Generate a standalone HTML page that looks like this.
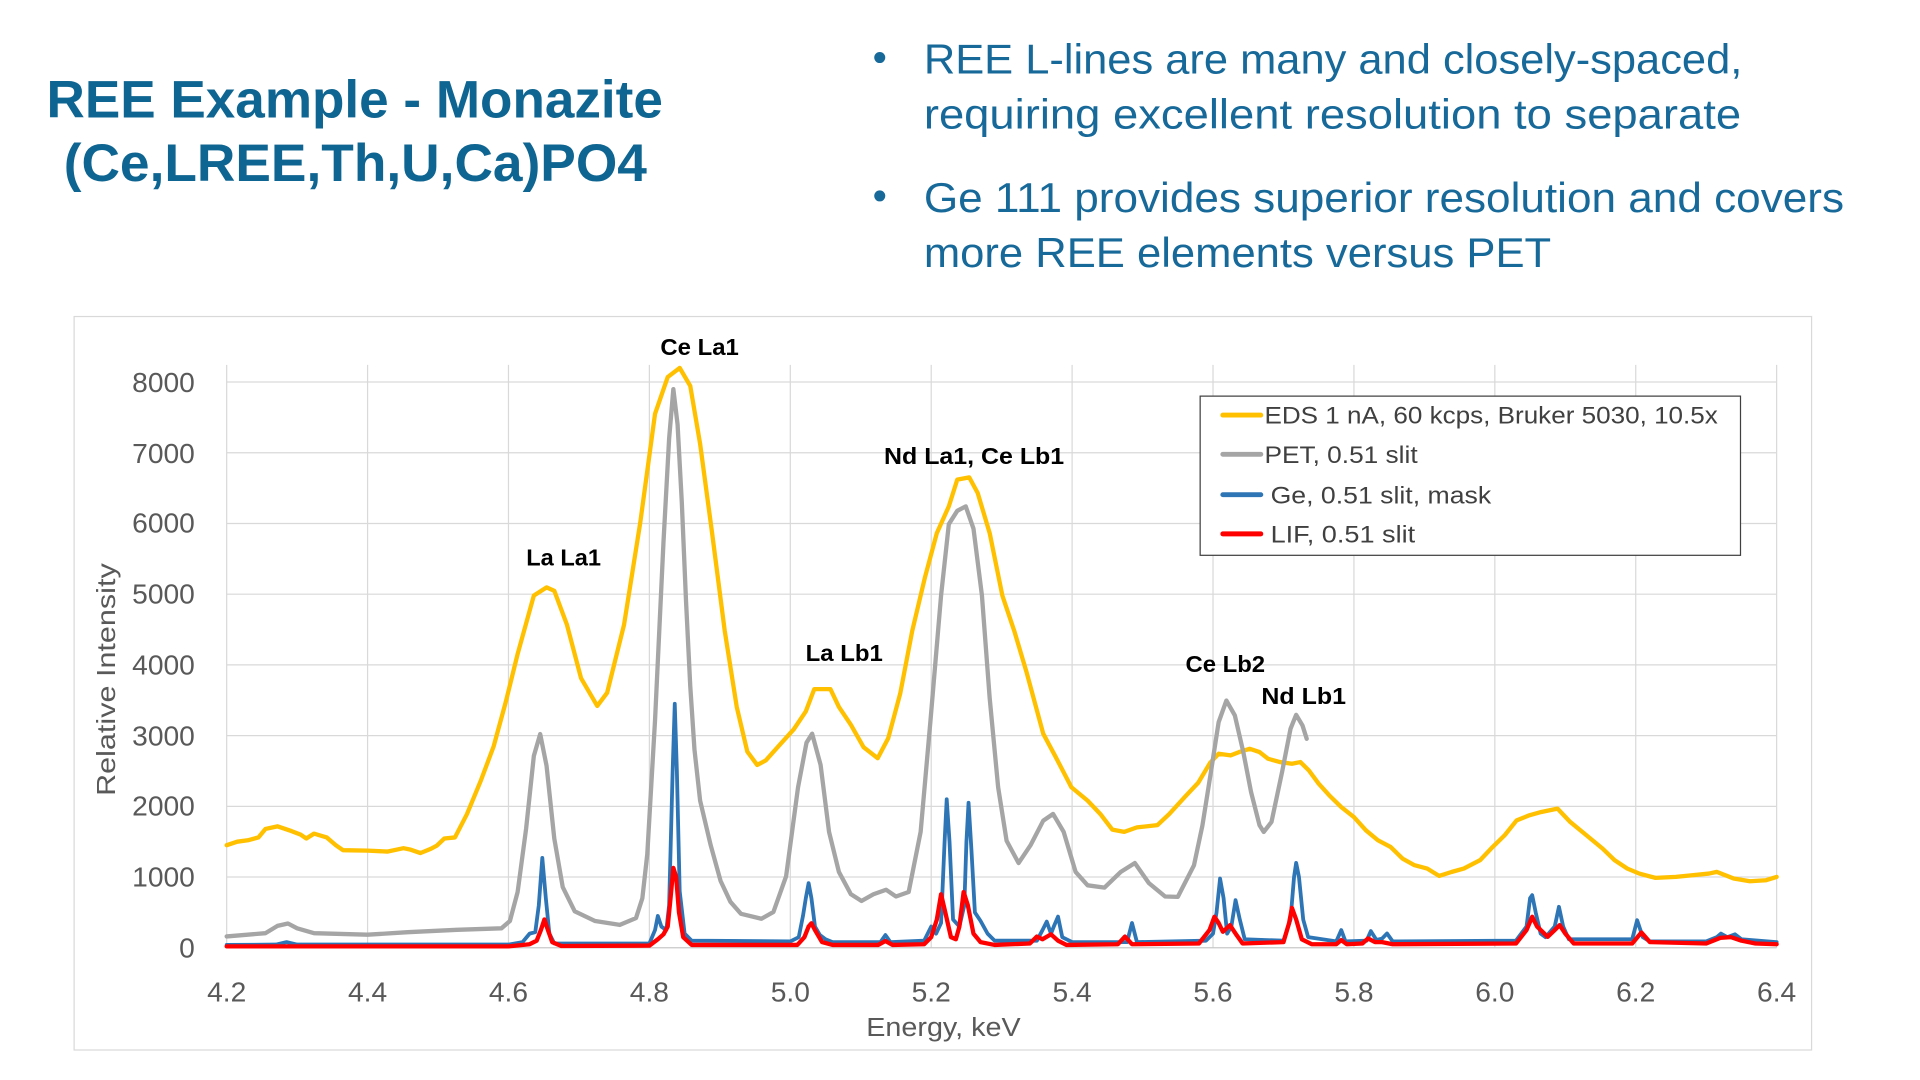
<!DOCTYPE html>
<html>
<head>
<meta charset="utf-8">
<style>
html,body{margin:0;padding:0;background:#fff;}
body{width:1920px;height:1080px;overflow:hidden;}
svg{display:block;}
</style>
</head>
<body>
<svg width="1920" height="1080" viewBox="0 0 1567 882" preserveAspectRatio="none" xmlns="http://www.w3.org/2000/svg" font-family="'Liberation Sans', Arial, sans-serif">
<rect x="0" y="0" width="1567" height="882" fill="#ffffff"/>

<!-- Title -->
<text x="38" y="96" font-size="43" font-weight="bold" fill="#0f6591" textLength="503" lengthAdjust="spacingAndGlyphs">REE Example - Monazite</text>
<text x="52" y="148" font-size="43" font-weight="bold" fill="#0f6591" textLength="476" lengthAdjust="spacingAndGlyphs">(Ce,LREE,Th,U,Ca)PO4</text>

<!-- Bullets -->
<circle cx="718" cy="47" r="4.5" fill="#17699a"/>
<circle cx="718" cy="160" r="4.5" fill="#17699a"/>
<g font-size="34" fill="#17699a">
<text x="754" y="60" textLength="668" lengthAdjust="spacingAndGlyphs">REE L-lines are many and closely-spaced,</text>
<text x="754" y="105" textLength="667" lengthAdjust="spacingAndGlyphs">requiring excellent resolution to separate</text>
<text x="754" y="173" textLength="751" lengthAdjust="spacingAndGlyphs">Ge 111 provides superior resolution and covers</text>
<text x="754" y="218" textLength="512" lengthAdjust="spacingAndGlyphs">more REE elements versus PET</text>
</g>

<!-- Chart box -->
<rect x="60.5" y="258.5" width="1418" height="599" fill="#ffffff" stroke="#d9d9d9" stroke-width="1"/>

<!-- Grid -->
<g stroke="#d9d9d9" stroke-width="1">
<line x1="185" y1="312" x2="1450" y2="312"/>
<line x1="185" y1="369.75" x2="1450" y2="369.75"/>
<line x1="185" y1="427.5" x2="1450" y2="427.5"/>
<line x1="185" y1="485.25" x2="1450" y2="485.25"/>
<line x1="185" y1="543" x2="1450" y2="543"/>
<line x1="185" y1="600.75" x2="1450" y2="600.75"/>
<line x1="185" y1="658.5" x2="1450" y2="658.5"/>
<line x1="185" y1="716.25" x2="1450" y2="716.25"/>
<line x1="185" y1="298" x2="185" y2="774"/>
<line x1="300" y1="298" x2="300" y2="774"/>
<line x1="415" y1="298" x2="415" y2="774"/>
<line x1="530" y1="298" x2="530" y2="774"/>
<line x1="645" y1="298" x2="645" y2="774"/>
<line x1="760" y1="298" x2="760" y2="774"/>
<line x1="875" y1="298" x2="875" y2="774"/>
<line x1="990" y1="298" x2="990" y2="774"/>
<line x1="1105" y1="298" x2="1105" y2="774"/>
<line x1="1220" y1="298" x2="1220" y2="774"/>
<line x1="1335" y1="298" x2="1335" y2="774"/>
<line x1="1450" y1="298" x2="1450" y2="774"/>
</g>
<line x1="185" y1="774" x2="1450" y2="774" stroke="#c8c8c8" stroke-width="1"/>

<!-- Y tick labels -->
<g font-size="23" fill="#595959" text-anchor="end">
<text x="159" y="320">8000</text>
<text x="159" y="378">7000</text>
<text x="159" y="435">6000</text>
<text x="159" y="493">5000</text>
<text x="159" y="551">4000</text>
<text x="159" y="609">3000</text>
<text x="159" y="666">2000</text>
<text x="159" y="724">1000</text>
<text x="159" y="782">0</text>
</g>
<!-- X tick labels -->
<g font-size="23" fill="#595959" text-anchor="middle">
<text x="185" y="818">4.2</text>
<text x="300" y="818">4.4</text>
<text x="415" y="818">4.6</text>
<text x="530" y="818">4.8</text>
<text x="645" y="818">5.0</text>
<text x="760" y="818">5.2</text>
<text x="875" y="818">5.4</text>
<text x="990" y="818">5.6</text>
<text x="1105" y="818">5.8</text>
<text x="1220" y="818">6.0</text>
<text x="1335" y="818">6.2</text>
<text x="1450" y="818">6.4</text>
</g>
<text x="770" y="846" font-size="21" fill="#595959" text-anchor="middle" textLength="126" lengthAdjust="spacingAndGlyphs">Energy, keV</text>
<text transform="translate(94 555) rotate(-90)" font-size="21" fill="#595959" text-anchor="middle" textLength="190" lengthAdjust="spacingAndGlyphs">Relative Intensity</text>

<!-- Series -->
<g transform="matrix(575 0 0 -0.05775 -2230 774)" fill="none" stroke-linejoin="round" stroke-linecap="round">
<polyline vector-effect="non-scaling-stroke" stroke="#FFC000" stroke-width="4.3" points="4.200,1450 4.215,1500 4.230,1520 4.245,1560 4.255,1680 4.272,1717 4.292,1650 4.305,1600 4.313,1545 4.324,1614 4.342,1560 4.355,1450 4.365,1380 4.400,1374 4.428,1360 4.451,1408 4.460,1390 4.475,1339 4.490,1400 4.498,1442 4.509,1545 4.524,1560 4.541,1889 4.561,2370 4.579,2850 4.596,3470 4.613,4155 4.636,4980 4.654,5096 4.665,5048 4.683,4567 4.703,3812 4.726,3420 4.740,3605 4.764,4567 4.787,6010 4.808,7550 4.826,8070 4.843,8200 4.858,7945 4.872,7125 4.889,5864 4.907,4477 4.924,3405 4.939,2774 4.953,2585 4.965,2648 4.982,2837 5.005,3090 5.022,3342 5.034,3657 5.057,3657 5.069,3405 5.086,3153 5.104,2837 5.124,2680 5.139,2963 5.156,3594 5.173,4477 5.191,5233 5.208,5864 5.225,6242 5.237,6620 5.254,6652 5.266,6431 5.283,5864 5.301,4981 5.318,4477 5.335,3909 5.359,3027 5.376,2711 5.399,2270 5.422,2081 5.440,1892 5.457,1671 5.474,1639 5.492,1702 5.521,1734 5.538,1892 5.561,2144 5.579,2333 5.596,2617 5.608,2744 5.625,2720 5.637,2767 5.652,2814 5.666,2767 5.678,2673 5.695,2626 5.712,2602 5.724,2626 5.736,2508 5.750,2320 5.765,2155 5.782,1990 5.800,1849 5.817,1661 5.834,1520 5.852,1426 5.869,1261 5.886,1167 5.904,1120 5.921,1016 5.939,1073 5.956,1120 5.979,1238 5.997,1426 6.014,1591 6.031,1802 6.049,1873 6.066,1920 6.089,1967 6.107,1779 6.130,1591 6.153,1402 6.170,1238 6.188,1120 6.205,1049 6.228,988 6.257,1002 6.280,1026 6.304,1049 6.315,1073 6.339,979 6.362,941 6.385,955 6.400,1002"/>
<polyline vector-effect="non-scaling-stroke" stroke="#A5A5A5" stroke-width="4.3" points="4.200,160 4.255,206 4.272,309 4.287,343 4.300,275 4.324,206 4.400,185 4.457,220 4.527,254 4.590,275 4.602,378 4.613,790 4.625,1683 4.636,2713 4.645,3022 4.654,2575 4.665,1545 4.677,858 4.694,515 4.723,378 4.758,323 4.781,420 4.790,700 4.797,1324 4.808,3216 4.820,5738 4.828,7200 4.834,7900 4.840,7400 4.846,6300 4.852,4900 4.858,3700 4.864,2800 4.872,2080 4.887,1450 4.901,946 4.915,650 4.930,480 4.959,410 4.976,505 4.994,1009 5.011,2270 5.023,2900 5.031,3027 5.043,2585 5.055,1639 5.069,1072 5.086,757 5.101,662 5.118,757 5.136,820 5.150,725 5.168,788 5.185,1639 5.199,3216 5.214,4981 5.225,5990 5.237,6179 5.249,6242 5.260,5927 5.272,4981 5.283,3531 5.295,2270 5.307,1513 5.324,1198 5.341,1450 5.359,1797 5.373,1892 5.388,1639 5.405,1072 5.422,883 5.446,851 5.469,1072 5.489,1198 5.509,914 5.532,725 5.550,720 5.573,1167 5.585,1732 5.597,2485 5.608,3191 5.619,3496 5.631,3285 5.643,2767 5.654,2202 5.666,1732 5.672,1638 5.683,1779 5.698,2485 5.710,3096 5.718,3294 5.727,3144 5.733,2955"/>
<polyline vector-effect="non-scaling-stroke" stroke="#2E75B6" stroke-width="3.8" points="4.200,40 4.270,45 4.285,80 4.300,45 4.600,45 4.620,80 4.630,200 4.638,220 4.643,600 4.648,1270 4.653,700 4.658,200 4.665,60 4.800,60 4.808,250 4.812,450 4.817,300 4.824,250 4.828,600 4.833,2500 4.836,3450 4.839,2500 4.843,800 4.850,200 4.860,100 5.000,90 5.012,150 5.018,450 5.022,700 5.026,914 5.030,700 5.035,300 5.042,180 5.050,120 5.060,80 5.128,80 5.135,180 5.142,80 5.190,100 5.200,300 5.207,200 5.214,350 5.219,1500 5.222,2100 5.226,1500 5.231,400 5.240,300 5.247,600 5.250,1500 5.253,2050 5.257,1400 5.262,500 5.270,380 5.280,200 5.290,100 5.350,100 5.358,250 5.364,370 5.370,200 5.374,300 5.380,440 5.386,150 5.400,80 5.478,80 5.485,350 5.492,80 5.590,100 5.600,200 5.605,500 5.610,979 5.615,700 5.620,200 5.626,300 5.632,673 5.638,400 5.645,120 5.700,100 5.710,400 5.715,1000 5.718,1200 5.722,1000 5.728,400 5.735,150 5.775,90 5.782,250 5.788,90 5.818,100 5.824,235 5.832,110 5.840,130 5.847,202 5.855,90 6.030,100 6.045,300 6.050,700 6.053,744 6.058,500 6.065,200 6.072,150 6.085,300 6.091,579 6.097,300 6.105,120 6.195,120 6.202,390 6.210,150 6.220,90 6.300,90 6.315,150 6.321,200 6.330,150 6.341,190 6.350,120 6.400,80"/>
<polyline vector-effect="non-scaling-stroke" stroke="#FF0000" stroke-width="4.3" points="4.200,20 4.600,20 4.630,50 4.640,100 4.646,250 4.651,400 4.656,250 4.662,80 4.675,25 4.800,30 4.812,120 4.820,190 4.826,300 4.830,700 4.834,1130 4.838,1000 4.842,500 4.848,150 4.860,40 5.010,40 5.020,150 5.026,300 5.030,347 5.035,250 5.045,80 5.060,40 5.125,40 5.135,95 5.145,40 5.190,50 5.200,150 5.208,400 5.214,757 5.220,500 5.228,150 5.235,120 5.240,300 5.246,788 5.252,600 5.260,200 5.270,80 5.290,40 5.340,60 5.350,158 5.358,120 5.370,190 5.380,100 5.392,40 5.465,50 5.475,158 5.485,50 5.580,60 5.595,250 5.602,438 5.608,350 5.614,226 5.624,320 5.632,200 5.642,60 5.700,80 5.708,350 5.712,565 5.718,400 5.726,120 5.740,50 5.775,50 5.782,108 5.790,50 5.812,60 5.820,132 5.830,80 5.840,80 5.855,50 6.030,60 6.045,250 6.053,438 6.060,300 6.075,155 6.085,250 6.092,320 6.100,200 6.112,60 6.195,60 6.208,216 6.220,80 6.300,60 6.320,140 6.335,150 6.350,100 6.370,60 6.400,50"/>
</g>

<!-- Peak labels -->
<g font-size="19" font-weight="bold" fill="#000000" text-anchor="middle">
<text x="571" y="290" textLength="64" lengthAdjust="spacingAndGlyphs">Ce La1</text>
<text x="460" y="462" textLength="61" lengthAdjust="spacingAndGlyphs">La La1</text>
<text x="689" y="540" textLength="63" lengthAdjust="spacingAndGlyphs">La Lb1</text>
<text x="795" y="379" textLength="147" lengthAdjust="spacingAndGlyphs">Nd La1, Ce Lb1</text>
<text x="1000" y="549" textLength="65" lengthAdjust="spacingAndGlyphs">Ce Lb2</text>
<text x="1064" y="575" textLength="69" lengthAdjust="spacingAndGlyphs">Nd Lb1</text>
</g>

<!-- Legend -->
<rect x="979.5" y="323.5" width="441" height="130" fill="#ffffff" stroke="#404040" stroke-width="1"/>
<g stroke-width="4" stroke-linecap="round">
<line x1="998" y1="339" x2="1029" y2="339" stroke="#FFC000"/>
<line x1="998" y1="371" x2="1029" y2="371" stroke="#A5A5A5"/>
<line x1="998" y1="404" x2="1029" y2="404" stroke="#2E75B6"/>
<line x1="998" y1="436" x2="1029" y2="436" stroke="#FF0000"/>
</g>
<g font-size="20" fill="#404040">
<text x="1032" y="346" textLength="370" lengthAdjust="spacingAndGlyphs">EDS 1 nA, 60 kcps, Bruker 5030, 10.5x</text>
<text x="1032" y="378" textLength="125" lengthAdjust="spacingAndGlyphs">PET, 0.51 slit</text>
<text x="1037" y="411" textLength="180" lengthAdjust="spacingAndGlyphs">Ge, 0.51 slit, mask</text>
<text x="1037" y="443" textLength="118" lengthAdjust="spacingAndGlyphs">LIF, 0.51 slit</text>
</g>
</svg>
</body>
</html>
